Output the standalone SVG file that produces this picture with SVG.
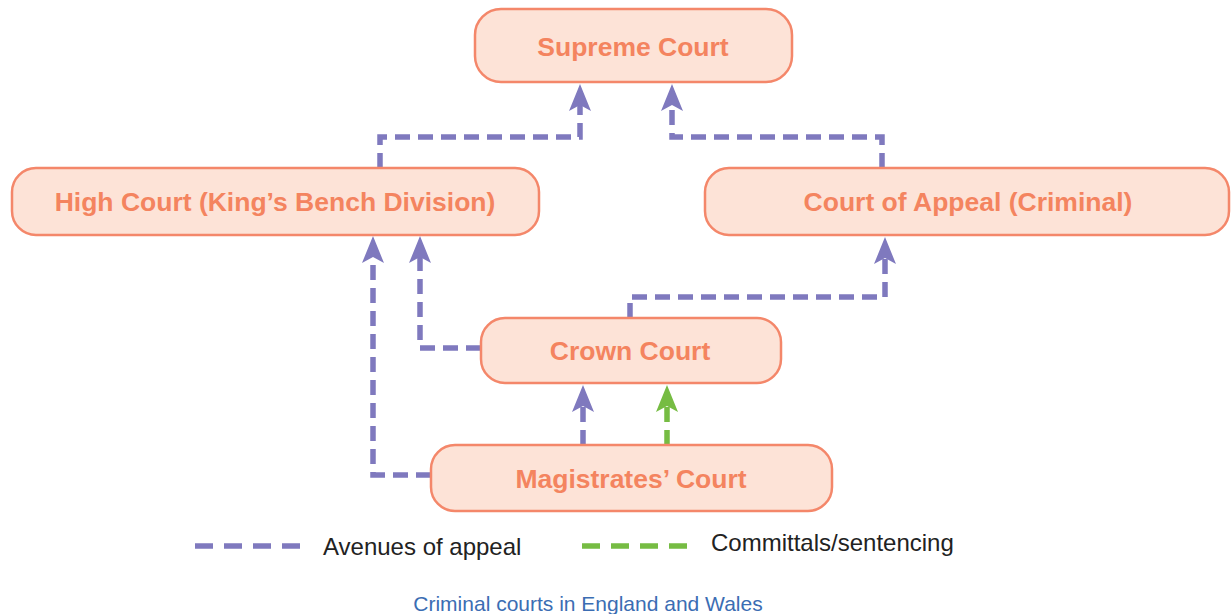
<svg xmlns="http://www.w3.org/2000/svg" width="1231" height="614" viewBox="0 0 1231 614">
<style>
.box{fill:#FDE3D7;stroke:#F4876A;stroke-width:2.5}
.lbl{font-family:"Liberation Sans",Arial,sans-serif;font-weight:bold;font-size:26.5px;fill:#F4845F;text-anchor:middle}
.ap{fill:none;stroke:#7F79BE;stroke-width:5.5;stroke-dasharray:15 8}
.cm{fill:none;stroke:#76BC43;stroke-width:5.5;stroke-dasharray:15 8}
.leg{font-family:"Liberation Sans",Arial,sans-serif;font-size:24px;fill:#222}
</style>
<defs>
<marker id="ahP" markerUnits="userSpaceOnUse" viewBox="-7 -12 29 24" refX="0" refY="0" markerWidth="29" markerHeight="24" orient="auto">
<path d="M21,0 L-6,-11 L0,0 L-6,11 Z" fill="#7F79BE"/>
</marker>
<marker id="ahG" markerUnits="userSpaceOnUse" viewBox="-7 -12 29 24" refX="0" refY="0" markerWidth="29" markerHeight="24" orient="auto">
<path d="M21,0 L-6,-11 L0,0 L-6,11 Z" fill="#76BC43"/>
</marker>
</defs>
<rect width="1231" height="614" fill="#fff"/>
<g id="connectors">
<path class="ap" d="M380,168 V137 H580 V105" marker-end="url(#ahP)"/>
<path class="ap" d="M882,168 V137 H672 V105" marker-end="url(#ahP)"/>
<path class="ap" d="M630,318 V297 H885 V258" marker-end="url(#ahP)"/>
<path class="ap" d="M481,348 H420 V257" marker-end="url(#ahP)"/>
<path class="ap" d="M431,475 H373 V257" marker-end="url(#ahP)"/>
<path class="ap" d="M583,445 V406" marker-end="url(#ahP)"/>
<path class="cm" d="M667,445 V406" marker-end="url(#ahG)"/>
</g>
<g id="supreme">
<rect class="box" x="475" y="9" width="317" height="73" rx="26"/>
<text class="lbl" x="633" y="56">Supreme Court</text>
</g>
<g id="high">
<rect class="box" x="12" y="168" width="527" height="67" rx="24"/>
<text class="lbl" x="275" y="211">High Court (King’s Bench Division)</text>
</g>
<g id="appeal">
<rect class="box" x="705" y="168" width="524" height="67" rx="24"/>
<text class="lbl" x="968" y="211">Court of Appeal (Criminal)</text>
</g>
<g id="crown">
<rect class="box" x="481" y="318" width="300" height="65" rx="24"/>
<text class="lbl" x="630" y="360">Crown Court</text>
</g>
<g id="magistrates">
<rect class="box" x="431" y="445" width="401" height="66" rx="24"/>
<text class="lbl" x="631" y="488">Magistrates’ Court</text>
</g>
<g id="legend">
<line x1="195" y1="546" x2="302" y2="546" stroke="#7F79BE" stroke-width="5.5" stroke-dasharray="18 11"/>
<text class="leg" x="323" y="555">Avenues of appeal</text>
<line x1="582" y1="546" x2="690" y2="546" stroke="#76BC43" stroke-width="5.5" stroke-dasharray="18 11"/>
<text class="leg" x="711" y="551">Committals/sentencing</text>
</g>
<text x="588" y="611" font-family="'Liberation Sans',Arial,sans-serif" font-size="21" fill="#3B6DB3" text-anchor="middle">Criminal courts in England and Wales</text>
</svg>
